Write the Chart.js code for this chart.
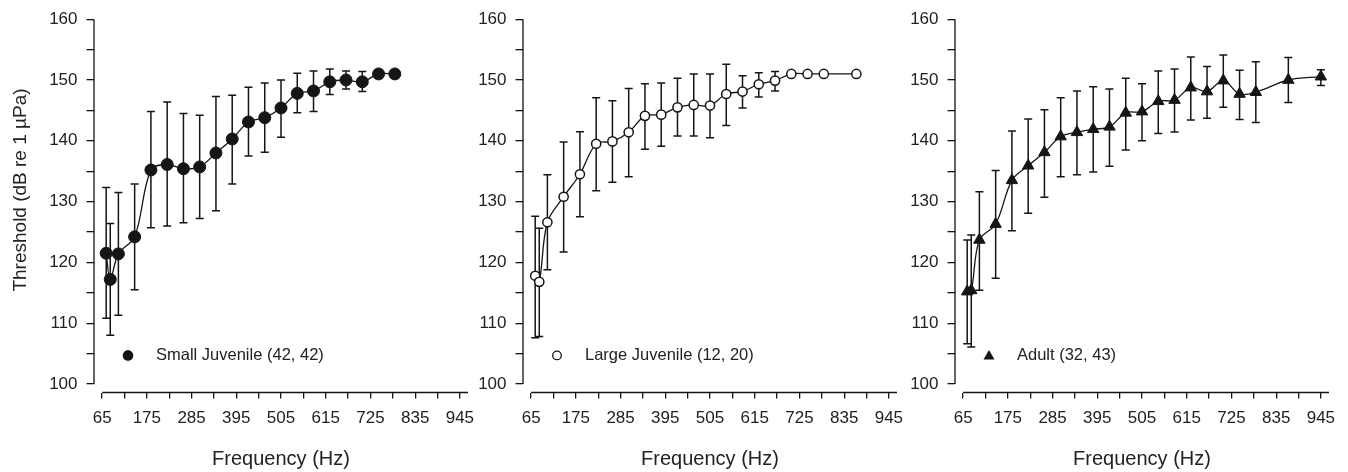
<!DOCTYPE html>
<html>
<head>
<meta charset="utf-8">
<script src="https://cdn.jsdelivr.net/npm/chart.js@4/dist/chart.umd.min.js"></script>
<style>
  html, body { margin: 0; padding: 0; background: #fff; }
  #wrap { position: relative; width: 1348px; height: 472px; overflow: hidden; }
  canvas { position: absolute; top: 0; }
</style>
</head>
<body>
<div id="wrap">
  <canvas id="c1" width="486" height="472" style="left:0px"></canvas>
  <canvas id="c2" width="486" height="472" style="left:429px"></canvas>
  <canvas id="c3" width="486" height="472" style="left:862px"></canvas>
</div>
<script>
// Frequencies (Hz) for each group
const smallFreq = [75, 85, 105, 145, 185, 225, 265, 305, 345, 385, 425, 465, 505, 545, 585, 625, 665, 705, 745, 785];
const largeFreq = [75, 85, 105, 145, 185, 225, 265, 305, 345, 385, 425, 465, 505, 545, 585, 625, 665, 705, 745, 785, 865];
const adultFreq = [75, 85, 105, 145, 185, 225, 265, 305, 345, 385, 425, 465, 505, 545, 585, 625, 665, 705, 745, 785, 865, 945];

// Mean thresholds (dB re 1 uPa) and error bar ends
const smallMean = [121.5, 117.2, 121.4, 124.2, 135.2, 136.1, 135.4, 135.7, 138.0, 140.3, 143.1, 143.8, 145.4, 147.8, 148.2, 149.7, 150.0, 149.7, 151.0, 151.0];
const smallHi   = [132.3, 126.4, 131.5, 132.9, 144.8, 146.4, 144.5, 144.2, 147.3, 147.5, 148.8, 149.5, 150.0, 151.1, 151.5, 151.8, 151.5, 151.4, null, null];
const smallLo   = [110.8, 108.0, 111.3, 115.5, 125.7, 126.0, 126.5, 127.2, 128.5, 132.9, 137.5, 138.1, 140.6, 144.6, 144.8, 147.6, 148.5, 148.1, null, null];

const largeMean = [117.8, 116.8, 126.6, 130.8, 134.5, 139.5, 139.9, 141.4, 144.1, 144.3, 145.5, 145.9, 145.8, 147.7, 148.1, 149.3, 149.9, 151.0, 151.0, 151.0, 151.0];
const largeHi   = [127.6, 125.6, 134.4, 139.8, 141.5, 147.1, 146.6, 148.6, 149.4, 149.5, 150.3, 151.0, 151.0, 152.6, 150.7, 151.2, 151.4, null, null, null, null];
const largeLo   = [107.6, 107.8, 118.8, 121.7, 127.5, 131.8, 133.2, 134.1, 138.6, 139.1, 140.8, 140.8, 140.5, 142.5, 145.4, 147.2, 148.2, null, null, null, null];

const adultMean = [115.2, 115.4, 123.7, 126.3, 133.5, 135.9, 138.1, 140.7, 141.4, 141.9, 142.3, 144.6, 144.8, 146.5, 146.7, 148.75, 148.1, 149.9, 147.7, 148.0, 150.0, 150.55];
const adultHi   = [123.7, 124.5, 131.6, 135.1, 141.6, 143.6, 145.1, 147.1, 148.2, 148.9, 148.5, 150.3, 149.4, 151.5, 151.8, 153.8, 152.2, 154.1, 151.6, 153.0, 153.7, 151.7];
const adultLo   = [106.6, 106.1, 115.4, 117.4, 125.2, 128.1, 130.7, 134.1, 134.4, 134.85, 135.8, 138.5, 140.0, 141.2, 141.45, 143.4, 143.7, 145.5, 143.5, 143.0, 146.3, 149.1];

// Axis ticks
const xTickLabels = [65, 175, 285, 395, 505, 615, 725, 835, 945];
const yTickLabels = [100, 110, 120, 130, 140, 150, 160];

const legendLabels = ['Small Juvenile (42, 42)', 'Large Juvenile (12, 20)', 'Adult (32, 43)'];

Chart.defaults.font.family = "'Liberation Sans', Arial, Helvetica, sans-serif";
Chart.defaults.color = '#222';

const ink = '#151515';

// minor ticks halfway between labelled ones
const xTicks = [];
xTickLabels.forEach((v, i) => {
    xTicks.push(v);
    if (i < xTickLabels.length - 1) xTicks.push(v + 55);
});
const yTicks = [];
yTickLabels.forEach((v, i) => {
    yTicks.push(v);
    if (i < yTickLabels.length - 1) yTicks.push(v + 5);
});

// error bars, drawn under the markers
const errorBars = {
    id: 'errorBars',
    beforeDatasetsDraw(chart) {
        const ctx = chart.ctx;
        const xs = chart.scales.x, ys = chart.scales.y;
        chart.data.datasets.forEach(ds => {
            ctx.save();
            ctx.strokeStyle = ink;
            ctx.lineWidth = 1.5;
            ds.data.forEach((p, i) => {
                const hi = ds.errHi[i], lo = ds.errLo[i];
                if (hi == null || lo == null) return;
                const px = xs.getPixelForValue(p.x);
                const yh = ys.getPixelForValue(hi);
                const yl = ys.getPixelForValue(lo);
                ctx.beginPath();
                ctx.moveTo(px, yh); ctx.lineTo(px, yl);
                ctx.moveTo(px - 4, yh); ctx.lineTo(px + 4, yh);
                ctx.moveTo(px - 4, yl); ctx.lineTo(px + 4, yl);
                ctx.stroke();
            });
            ctx.restore();
        });
    }
};

// detached axis lines, legend and y title
const decorations = {
    id: 'decorations',
    afterDraw(chart, args, opts) {
        const ctx = chart.ctx;
        const xs = chart.scales.x, ys = chart.scales.y;
        const area = chart.chartArea;
        ctx.save();
        ctx.strokeStyle = ink;
        ctx.lineWidth = 1.3;
        ctx.beginPath();
        ctx.moveTo(area.left, ys.getPixelForValue(160));
        ctx.lineTo(area.left, ys.getPixelForValue(100));
        ctx.moveTo(xs.getPixelForValue(65), area.bottom);
        ctx.lineTo(area.right, area.bottom);
        ctx.stroke();

        // legend
        const ly = ys.getPixelForValue(104.7);
        const lx = area.left + 34;
        ctx.fillStyle = ink;
        ctx.lineWidth = 1.3;
        ctx.beginPath();
        if (opts.marker === 'filled') {
            ctx.arc(lx, ly, 5.3, 0, Math.PI * 2);
            ctx.fill();
        } else if (opts.marker === 'open') {
            ctx.arc(lx, ly, 4.3, 0, Math.PI * 2);
            ctx.fillStyle = '#fff';
            ctx.fill();
            ctx.stroke();
        } else {
            ctx.moveTo(lx, ly - 5.5);
            ctx.lineTo(lx + 5.5, ly + 4);
            ctx.lineTo(lx - 5.5, ly + 4);
            ctx.closePath();
            ctx.fill();
        }
        ctx.fillStyle = '#222';
        ctx.font = "16.5px 'Liberation Sans', Arial, sans-serif";
        ctx.textBaseline = 'middle';
        ctx.textAlign = 'left';
        ctx.fillText(opts.label, area.left + 62, ly + 0.5);

        if (opts.yTitle) {
            ctx.translate(21, 190);
            ctx.rotate(-Math.PI / 2);
            ctx.textAlign = 'center';
            ctx.font = "19px 'Liberation Sans', Arial, sans-serif";
            ctx.fillText(opts.yTitle, 0, 0);
        }
        ctx.restore();
    }
};

function makePanel(canvasId, freq, mean, hi, lo, style, label, areaLeft, yTitle) {
    const points = freq.map((f, i) => ({ x: f, y: mean[i] }));
    const ds = {
        data: points,
        errHi: hi,
        errLo: lo,
        showLine: true,
        tension: 0.35,
        borderColor: ink,
        borderWidth: 1.3,
        pointStyle: style === 'triangle' ? 'triangle' : 'circle',
        pointRadius: style === 'filled' ? 6 : (style === 'open' ? 4.6 : 6.6),
        pointBorderWidth: style === 'open' ? 1.5 : 1,
        pointBackgroundColor: style === 'open' ? '#fff' : ink,
        pointBorderColor: ink,
        clip: false
    };
    return new Chart(document.getElementById(canvasId), {
        type: 'scatter',
        data: { datasets: [ds] },
        options: {
            responsive: false,
            animation: false,
            events: [],
            layout: {
                autoPadding: false,
                padding: { top: 17, bottom: 1, left: 0, right: 486 - areaLeft - 374 }
            },
            plugins: {
                legend: { display: false },
                tooltip: { enabled: false },
                decorations: { marker: style, label: label, yTitle: yTitle }
            },
            scales: {
                x: {
                    type: 'linear',
                    min: 45,
                    max: 965,
                    afterBuildTicks: s => { s.ticks = xTicks.map(v => ({ value: v })); },
                    afterFit: s => { s.height = 78.5; },
                    ticks: {
                        autoSkip: false,
                        maxRotation: 0,
                        padding: 10,
                        font: { size: 17 },
                        callback: v => xTickLabels.includes(v) ? String(v) : ''
                    },
                    grid: { drawOnChartArea: false, tickLength: 6, color: ink, lineWidth: 1.3 },
                    border: { display: false },
                    title: { display: true, text: 'Frequency (Hz)', font: { size: 20 }, padding: 0 }
                },
                y: {
                    type: 'linear',
                    min: 98.6,
                    max: 160,
                    afterBuildTicks: s => { s.ticks = yTicks.map(v => ({ value: v })); },
                    afterFit: s => { s.width = areaLeft; },
                    ticks: {
                        autoSkip: false,
                        padding: 9,
                        font: { size: 17 },
                        callback: v => yTickLabels.includes(v) ? String(v) : ''
                    },
                    grid: { drawOnChartArea: false, tickLength: 7.5, color: ink, lineWidth: 1.3 },
                    border: { display: false }
                }
            }
        },
        plugins: [errorBars, decorations]
    });
}

makePanel('c1', smallFreq, smallMean, smallHi, smallLo, 'filled', legendLabels[0], 94, 'Threshold (dB re 1 \u00b5Pa)');
makePanel('c2', largeFreq, largeMean, largeHi, largeLo, 'open', legendLabels[1], 94, null);
makePanel('c3', adultFreq, adultMean, adultHi, adultLo, 'triangle', legendLabels[2], 93, null);
</script>
</body>
</html>
